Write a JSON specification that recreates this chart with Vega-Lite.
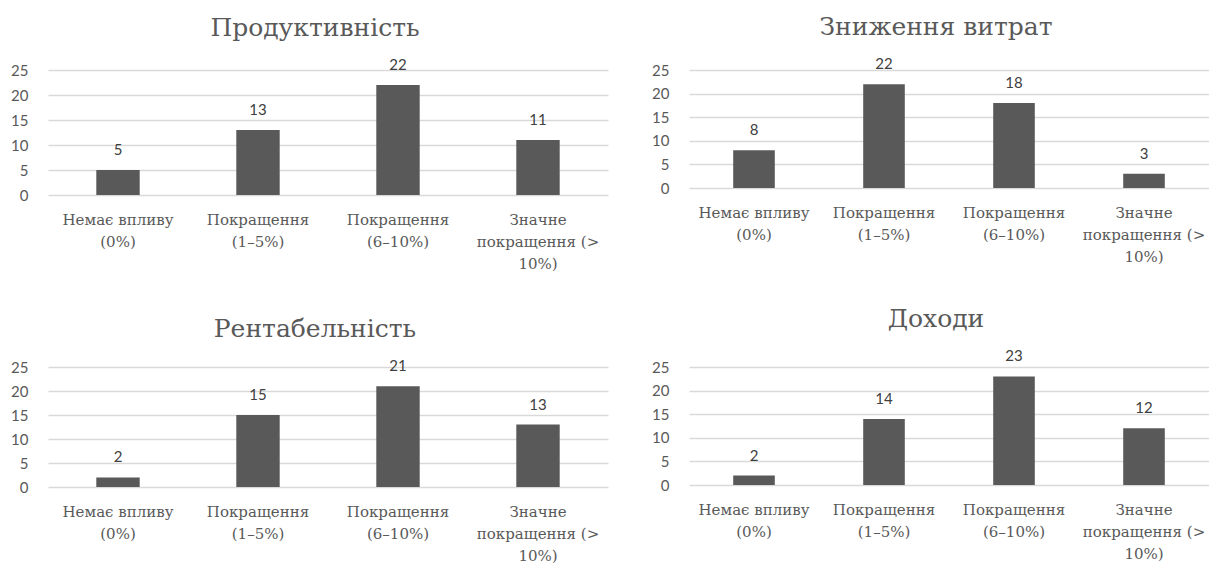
{
  "$schema": "https://vega.github.io/schema/vega-lite/v6.json",
  "background": "white",
  "padding": {"left": 10, "top": 15, "right": 0, "bottom": 0},
  "config": {
    "view": {"stroke": null},
    "title": {"font": "DejaVu Serif", "fontSize": 25, "fontWeight": "normal", "color": "#595959", "anchor": "middle", "dx": -13},
    "axis": {"labelColor": "#595959", "domain": false, "ticks": false, "title": null},
    "axisY": {"grid": true, "gridColor": "#d9d9d9", "gridWidth": 1.3, "labelFont": "Lato", "labelFontSize": 15, "labelPadding": 20},
    "axisX": {"grid": false, "labelFont": "DejaVu Serif", "labelFontSize": 15, "labelLineHeight": 22, "labelPadding": 17, "labelAngle": 0, "labelExpr": "split(datum.label, '|')"}
  },
  "datasets": {
    "d": [
      {"metric": "Продуктивність", "cat": "Немає впливу|(0%)", "n": 5},
      {"metric": "Продуктивність", "cat": "Покращення|(1–5%)", "n": 13},
      {"metric": "Продуктивність", "cat": "Покращення|(6–10%)", "n": 22},
      {"metric": "Продуктивність", "cat": "Значне|покращення (>|10%)", "n": 11},
      {"metric": "Зниження витрат", "cat": "Немає впливу|(0%)", "n": 8},
      {"metric": "Зниження витрат", "cat": "Покращення|(1–5%)", "n": 22},
      {"metric": "Зниження витрат", "cat": "Покращення|(6–10%)", "n": 18},
      {"metric": "Зниження витрат", "cat": "Значне|покращення (>|10%)", "n": 3},
      {"metric": "Рентабельність", "cat": "Немає впливу|(0%)", "n": 2},
      {"metric": "Рентабельність", "cat": "Покращення|(1–5%)", "n": 15},
      {"metric": "Рентабельність", "cat": "Покращення|(6–10%)", "n": 21},
      {"metric": "Рентабельність", "cat": "Значне|покращення (>|10%)", "n": 13},
      {"metric": "Доходи", "cat": "Немає впливу|(0%)", "n": 2},
      {"metric": "Доходи", "cat": "Покращення|(1–5%)", "n": 14},
      {"metric": "Доходи", "cat": "Покращення|(6–10%)", "n": 23},
      {"metric": "Доходи", "cat": "Значне|покращення (>|10%)", "n": 12}
    ]
  },
  "spacing": 36,
  "vconcat": [
    {
      "spacing": 43,
      "hconcat": [
        {
          "title": {"text": "Продуктивність", "offset": 17},
          "width": 560, "height": 125,
          "data": {"name": "d"},
          "transform": [{"filter": "datum.metric === 'Продуктивність'"}],
          "encoding": {
            "x": {"field": "cat", "type": "nominal", "sort": null, "scale": {"paddingInner": 0.69, "paddingOuter": 0.345}},
            "y": {"field": "n", "type": "quantitative", "scale": {"domain": [0, 25], "nice": false}, "axis": {"values": [0, 5, 10, 15, 20, 25]}}
          },
          "layer": [
            {"mark": {"type": "bar", "color": "#595959"}},
            {"mark": {"type": "text", "baseline": "middle", "dy": -20, "font": "Lato", "fontSize": 15, "color": "#404040"}, "encoding": {"text": {"field": "n"}}}
          ]
        },
        {
          "title": {"text": "Зниження витрат", "offset": 17},
          "width": 520, "height": 118,
          "data": {"name": "d"},
          "transform": [{"filter": "datum.metric === 'Зниження витрат'"}],
          "encoding": {
            "x": {"field": "cat", "type": "nominal", "sort": null, "scale": {"paddingInner": 0.68, "paddingOuter": 0.34}},
            "y": {"field": "n", "type": "quantitative", "scale": {"domain": [0, 25], "nice": false}, "axis": {"values": [0, 5, 10, 15, 20, 25]}}
          },
          "layer": [
            {"mark": {"type": "bar", "color": "#595959"}},
            {"mark": {"type": "text", "baseline": "middle", "dy": -20, "font": "Lato", "fontSize": 15, "color": "#404040"}, "encoding": {"text": {"field": "n"}}}
          ]
        }
      ]
    },
    {
      "spacing": 43,
      "hconcat": [
        {
          "title": {"text": "Рентабельність", "offset": 17},
          "width": 560, "height": 120,
          "data": {"name": "d"},
          "transform": [{"filter": "datum.metric === 'Рентабельність'"}],
          "encoding": {
            "x": {"field": "cat", "type": "nominal", "sort": null, "scale": {"paddingInner": 0.69, "paddingOuter": 0.345}},
            "y": {"field": "n", "type": "quantitative", "scale": {"domain": [0, 25], "nice": false}, "axis": {"values": [0, 5, 10, 15, 20, 25]}}
          },
          "layer": [
            {"mark": {"type": "bar", "color": "#595959"}},
            {"mark": {"type": "text", "baseline": "middle", "dy": -20, "font": "Lato", "fontSize": 15, "color": "#404040"}, "encoding": {"text": {"field": "n"}}}
          ]
        },
        {
          "title": {"text": "Доходи", "offset": 17},
          "width": 520, "height": 118,
          "data": {"name": "d"},
          "transform": [{"filter": "datum.metric === 'Доходи'"}],
          "encoding": {
            "x": {"field": "cat", "type": "nominal", "sort": null, "scale": {"paddingInner": 0.68, "paddingOuter": 0.34}},
            "y": {"field": "n", "type": "quantitative", "scale": {"domain": [0, 25], "nice": false}, "axis": {"values": [0, 5, 10, 15, 20, 25]}}
          },
          "layer": [
            {"mark": {"type": "bar", "color": "#595959"}},
            {"mark": {"type": "text", "baseline": "middle", "dy": -20, "font": "Lato", "fontSize": 15, "color": "#404040"}, "encoding": {"text": {"field": "n"}}}
          ]
        }
      ]
    }
  ]
}
